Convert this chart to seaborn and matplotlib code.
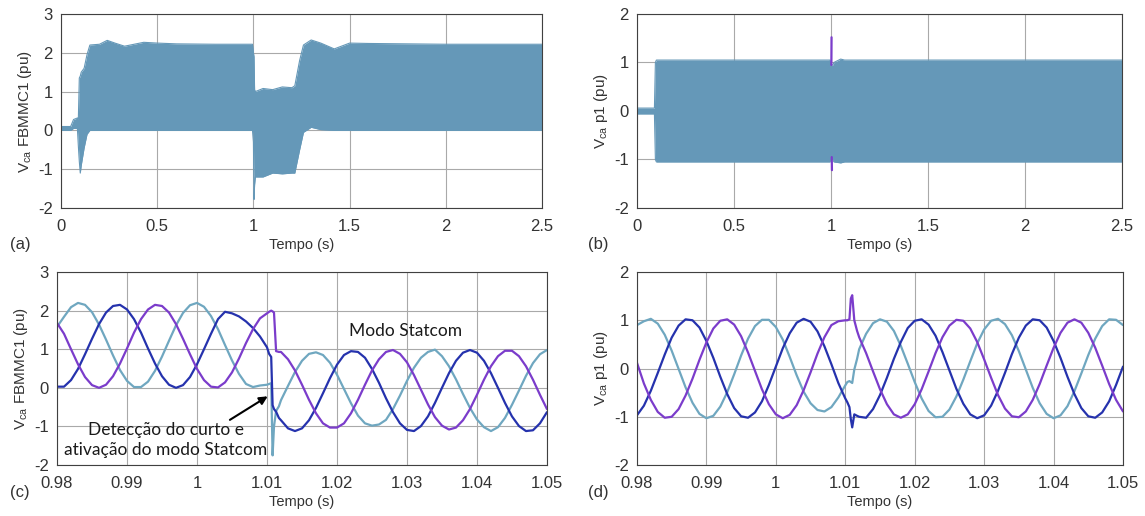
import numpy as np
import pandas as pd
import matplotlib
matplotlib.use("Agg")
import matplotlib.pyplot as plt
import seaborn as sns

# (a) envelope of the three phase voltages, FBMMC1, 0 - 2.5 s
t_a = [0, 0.05, 0.065, 0.085, 0.09, 0.095, 0.1, 0.105, 0.12, 0.135, 0.15, 0.2, 0.24, 0.28,
       0.33, 0.38, 0.43, 0.5, 0.6, 0.8, 0.995, 1.0, 1.003, 1.006, 1.01, 1.05, 1.1, 1.15,
       1.2, 1.215, 1.24, 1.26, 1.3, 1.35, 1.42, 1.5, 1.6, 2.0, 2.5]
a_upper = [0.1, 0.1, 0.28, 0.32, 0.3, 1.35, 1.4, 1.5, 1.6, 1.95, 2.2, 2.22, 2.32, 2.25,
           2.17, 2.22, 2.27, 2.25, 2.23, 2.22, 2.22, 2.0, 1.9, 1.05, 1.0, 1.08, 1.05, 1.12,
           1.1, 1.15, 1.8, 2.2, 2.33, 2.25, 2.1, 2.25, 2.24, 2.22, 2.22]
a_lower = [0.0, 0.0, 0.05, 0.05, -0.4, -0.8, -1.1, -0.9, -0.45, -0.1, 0.0, 0.0, 0.0, 0.0,
           0.0, 0.0, 0.0, 0.0, 0.0, 0.0, 0.0, -0.3, -1.78, -1.4, -1.2, -1.2, -1.1, -1.12,
           -1.1, -1.1, -0.5, -0.05, 0.08, 0.02, 0.0, 0.0, 0.0, 0.0, 0.0]

# (b) envelope of the p1 voltages
t_b = [0, 0.09, 0.095, 0.1, 0.995, 1.0, 1.01, 1.015, 1.05, 1.07, 2.5]
b_upper = [0.06, 0.06, 1.0, 1.05, 1.05, 0.95, 0.95, 1.0, 1.07, 1.05, 1.05]
b_lower = [-0.06, -0.06, -1.0, -1.05, -1.05, -0.95, -1.0, -1.05, -1.07, -1.05, -1.05]
b_spike_t = [1.002, 1.003, np.nan, 1.004, 1.005]
b_spike_v = [0.95, 1.52, np.nan, -0.95, -1.22]

# (c) and (d) zoom around the fault
t_zoom = [0.980, 0.981, 0.982, 0.983, 0.984, 0.985, 0.986, 0.987, 0.988, 0.989,
          0.990, 0.991, 0.992, 0.993, 0.994, 0.995, 0.996, 0.997, 0.998, 0.999,
          1.000, 1.001, 1.002, 1.003, 1.004, 1.005, 1.006, 1.007, 1.008, 1.009,
          1.010, 1.0103, 1.0106, 1.0108, 1.0110, 1.0113, 1.0117,
          1.012, 1.013, 1.014, 1.015, 1.016, 1.017, 1.018, 1.019, 1.020,
          1.021, 1.022, 1.023, 1.024, 1.025, 1.026, 1.027, 1.028, 1.029, 1.030,
          1.031, 1.032, 1.033, 1.034, 1.035, 1.036, 1.037, 1.038, 1.039, 1.040,
          1.041, 1.042, 1.043, 1.044, 1.045, 1.046, 1.047, 1.048, 1.049, 1.050]

c_fase_a = [1.58, 1.84, 2.09, 2.20, 2.15, 1.96, 1.64, 1.25, 0.84, 0.46,
            0.18, 0.02, 0.02, 0.16, 0.44, 0.81, 1.22, 1.62, 1.94, 2.14,
            2.20, 2.10, 1.86, 1.52, 1.11, 0.71, 0.36, 0.10, 0.02, 0.06,
            0.08, 0.10, 0.12, -1.75, -1.00, -0.60, -0.48,
            -0.32, 0.05, 0.41, 0.70, 0.88, 0.92, 0.85, 0.65, 0.34,
            -0.03, -0.40, -0.72, -0.92, -0.98, -0.95, -0.83, -0.55, -0.20, 0.18,
            0.52, 0.78, 0.93, 0.99, 0.82, 0.56, 0.22, -0.16, -0.52, -0.82,
            -1.02, -1.12, -1.02, -0.78, -0.44, -0.07, 0.31, 0.64, 0.87, 0.98]
c_fase_b = [0.03, 0.03, 0.20, 0.49, 0.87, 1.27, 1.65, 1.95, 2.12, 2.15,
            2.03, 1.78, 1.43, 1.02, 0.63, 0.30, 0.08, 0.00, 0.07, 0.28,
            0.61, 1.00, 1.40, 1.78, 1.97, 1.93, 1.85, 1.72, 1.55, 1.33,
            1.05, 0.88, 0.80, -0.45, -0.55, -0.62, -0.78,
            -0.84, -1.05, -1.12, -1.05, -0.84, -0.52, -0.14, 0.25, 0.60,
            0.85, 0.95, 0.93, 0.78, 0.49, 0.13, -0.27, -0.63, -0.92, -1.09,
            -1.12, -0.99, -0.74, -0.39, 0.00, 0.38, 0.70, 0.91, 0.98, 0.91,
            0.70, 0.38, 0.00, -0.39, -0.74, -0.99, -1.12, -1.10, -0.92, -0.63]
c_fase_c = [1.68, 1.40, 1.00, 0.61, 0.28, 0.07, 0.00, 0.08, 0.30, 0.63,
            1.02, 1.43, 1.78, 2.03, 2.15, 2.12, 1.95, 1.65, 1.27, 0.87,
            0.49, 0.20, 0.03, 0.01, 0.14, 0.40, 0.76, 1.16, 1.52, 1.80,
            1.93, 1.97, 2.00, 1.98, 1.95, 0.95, 0.93,
            0.93, 0.74, 0.45, 0.08, -0.31, -0.66, -0.92, -1.03, -1.03,
            -0.92, -0.66, -0.31, 0.08, 0.45, 0.74, 0.93, 0.98, 0.88, 0.66,
            0.33, -0.05, -0.43, -0.76, -0.98, -1.08, -1.03, -0.84, -0.55, -0.18,
            0.21, 0.56, 0.82, 0.96, 0.96, 0.82, 0.56, 0.21, -0.18, -0.55]

d_fase_a = [0.90, 0.98, 1.03, 0.93, 0.70, 0.37, -0.01, -0.39, -0.71, -0.94,
            -1.03, -0.98, -0.79, -0.49, -0.12, 0.27, 0.62, 0.88, 1.01, 1.01,
            0.86, 0.60, 0.24, -0.14, -0.48, -0.72, -0.86, -0.89, -0.80, -0.60,
            -0.35, -0.28, -0.26, -0.28, -0.30, -0.02, 0.20,
            0.40, 0.72, 0.94, 1.02, 0.97, 0.78, 0.47, 0.10, -0.28,
            -0.62, -0.88, -1.01, -1.00, -0.85, -0.58, -0.23, 0.15, 0.52, 0.81,
            0.99, 1.03, 0.92, 0.69, 0.36, -0.02, -0.40, -0.72, -0.94, -1.03,
            -0.97, -0.78, -0.47, -0.10, 0.28, 0.62, 0.88, 1.02, 1.01, 0.90]
d_fase_b = [-0.97, -0.77, -0.46, -0.09, 0.29, 0.64, 0.89, 1.02, 1.00, 0.85,
            0.57, 0.22, -0.17, -0.53, -0.82, -0.99, -1.02, -0.91, -0.68, -0.34,
            0.04, 0.42, 0.73, 0.95, 1.03, 0.97, 0.77, 0.46, 0.09, -0.30,
            -0.62, -0.70, -0.80, -1.05, -1.22, -0.95, -0.98,
            -1.00, -1.02, -0.84, -0.55, -0.19, 0.20, 0.55, 0.84, 0.99,
            1.02, 0.91, 0.68, 0.34, -0.04, -0.42, -0.73, -0.95, -1.03, -0.97,
            -0.77, -0.46, -0.09, 0.30, 0.64, 0.89, 1.02, 1.00, 0.85, 0.57,
            0.22, -0.17, -0.53, -0.82, -0.99, -1.02, -0.91, -0.68, -0.34, 0.04]
d_fase_c = [0.12, -0.31, -0.65, -0.90, -1.02, -1.00, -0.84, -0.56, -0.21, 0.18,
            0.54, 0.83, 0.99, 1.02, 0.91, 0.67, 0.33, -0.05, -0.43, -0.74,
            -0.95, -1.03, -0.96, -0.76, -0.45, -0.08, 0.31, 0.65, 0.90, 0.98,
            1.00, 1.00, 1.02, 1.45, 1.52, 1.00, 0.78,
            0.65, 0.32, -0.06, -0.43, -0.74, -0.95, -1.02, -0.95, -0.74,
            -0.43, -0.06, 0.32, 0.65, 0.89, 1.01, 0.99, 0.83, 0.55, 0.19,
            -0.19, -0.55, -0.83, -0.99, -1.01, -0.89, -0.65, -0.32, 0.06, 0.43,
            0.74, 0.95, 1.02, 0.95, 0.74, 0.43, 0.06, -0.32, -0.65, -0.89]

x_ticks_full = [0, 0.5, 1, 1.5, 2, 2.5]
x_ticks_zoom = [0.98, 0.99, 1.0, 1.01, 1.02, 1.03, 1.04, 1.05]
y_ticks_fb = [-2, -1, 0, 1, 2, 3]
y_ticks_p1 = [-2, -1, 0, 1, 2]

band_color = "#6598b8"
phase_colors = {"A": "#6fa7c0", "B": "#2532ad", "C": "#7b3ccb"}

sns.set_style("white")
plt.rcParams['font.family'] = ['Liberation Sans', 'DejaVu Sans']
plt.rcParams['mathtext.fontset'] = 'custom'
plt.rcParams['mathtext.rm'] = 'Liberation Sans'

fig = plt.figure(figsize=(11.45, 5.16), dpi=100)
ax_a = fig.add_axes([0.0533, 0.5969, 0.4201, 0.376])
ax_b = fig.add_axes([0.5563, 0.5969, 0.4236, 0.376])
ax_c = fig.add_axes([0.0498, 0.0988, 0.4279, 0.374])
ax_d = fig.add_axes([0.5563, 0.0988, 0.4245, 0.374])


def style(ax, xticks, yticks, ylabel):
    ax.set_xlim(xticks[0], xticks[-1])
    ax.set_ylim(yticks[0], yticks[-1])
    ax.set_xticks(xticks)
    ax.set_xticklabels([f"{v:g}" for v in xticks])
    ax.set_yticks(yticks)
    ax.set_yticklabels([f"{v:g}" for v in yticks])
    ax.grid(True, color="#a9a9a9", lw=0.8)
    ax.set_axisbelow(True)
    ax.tick_params(direction="in", length=3, width=0.8, colors="#333333",
                   labelsize=12, pad=6)
    ax.tick_params(axis="x", pad=8)
    for s in ax.spines.values():
        s.set_color("#404040")
        s.set_linewidth(0.8)
    ax.set_xlabel("Tempo (s)", fontsize=10.5, color="#333333", labelpad=3)
    ax.set_ylabel(ylabel, fontsize=11, color="#333333", labelpad=3)


lbl_fb = r"V$_{\mathrm{ca}}$ FBMMC1 (pu)"
lbl_p1 = r"V$_{\mathrm{ca}}$ p1 (pu)"

# full time bands
ax_a.fill_between(t_a, a_lower, a_upper, color=band_color, lw=0)
sns.lineplot(x=t_a, y=a_upper, ax=ax_a, color=band_color, lw=0.8)
sns.lineplot(x=t_a, y=a_lower, ax=ax_a, color=band_color, lw=0.8)

ax_b.fill_between(t_b, b_lower, b_upper, color=band_color, lw=0)
sns.lineplot(x=t_b, y=b_upper, ax=ax_b, color=band_color, lw=0.8)
sns.lineplot(x=t_b, y=b_lower, ax=ax_b, color=band_color, lw=0.8)
ax_b.plot(b_spike_t, b_spike_v, color=phase_colors["C"], lw=1.6)

# zoomed phases
for ax, fa, fb, fc in [(ax_c, c_fase_a, c_fase_b, c_fase_c),
                       (ax_d, d_fase_a, d_fase_b, d_fase_c)]:
    df = pd.DataFrame({
        "t": t_zoom * 3,
        "v": fa + fb + fc,
        "fase": ["A"] * len(t_zoom) + ["B"] * len(t_zoom) + ["C"] * len(t_zoom),
    })
    sns.lineplot(data=df, x="t", y="v", hue="fase", hue_order=["A", "B", "C"],
                 palette=phase_colors, estimator=None, sort=False, lw=1.6,
                 legend=False, ax=ax)

style(ax_a, x_ticks_full, y_ticks_fb, lbl_fb)
style(ax_b, x_ticks_full, y_ticks_p1, lbl_p1)
style(ax_c, x_ticks_zoom, y_ticks_fb, lbl_fb)
style(ax_d, x_ticks_zoom, y_ticks_p1, lbl_p1)

note_font = ['Lato', 'DejaVu Sans']
ax_c.text(1.0298, 1.46, "Modo Statcom", fontsize=12.5, family=note_font,
          color="#1a1a1a", ha="center", va="center")
ax_c.text(0.9955, -1.36, "Detecção do curto e\nativação do modo Statcom",
          fontsize=12.5, family=note_font, color="#1a1a1a", ha="center",
          va="center", linespacing=1.3)
ax_c.annotate("", xy=(1.0101, -0.22), xytext=(1.0047, -0.83),
              arrowprops=dict(arrowstyle="-|>", color="black", lw=1.5,
                              mutation_scale=12, shrinkA=0, shrinkB=0))

for x, y, s in [(20, 244, "(a)"), (598, 244, "(b)"), (20, 493, "(c)"), (598, 493, "(d)")]:
    fig.text(x / 1145, 1 - y / 516, s, fontsize=12, color="#333333",
             ha="center", va="center")

fig.savefig("out.png", dpi=100)
